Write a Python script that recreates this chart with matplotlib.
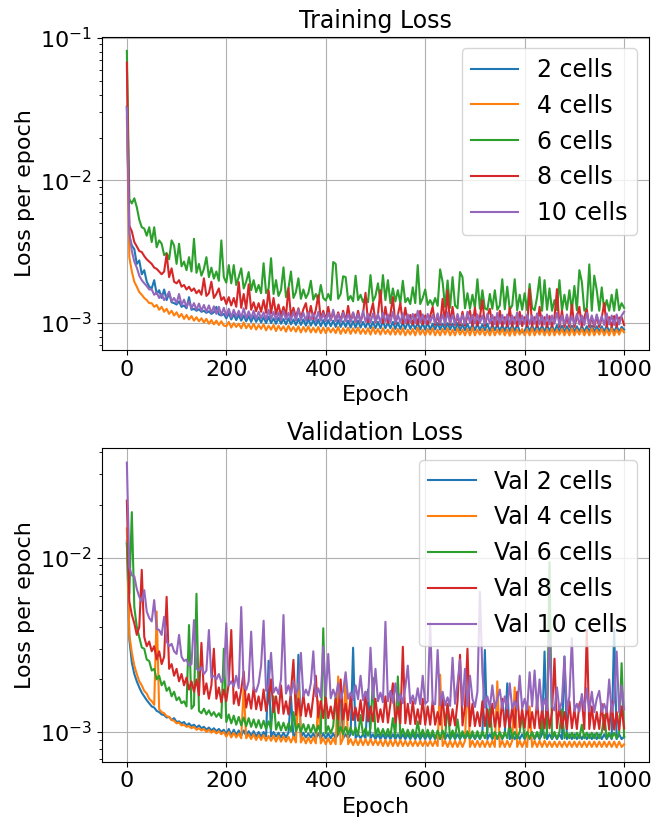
import numpy as np
import matplotlib
matplotlib.use("Agg")
import matplotlib.pyplot as plt

EPOCHS = list(range(0, 1001, 5))

TRAIN_LABELS = ["2 cells", "4 cells", "6 cells", "8 cells", "10 cells"]
VAL_LABELS = ["Val 2 cells", "Val 4 cells", "Val 6 cells", "Val 8 cells", "Val 10 cells"]

tr2 = [
    33, 4.1, 3.5, 3.3, 2.6, 2.75, 2.2, 2.35, 1.95, 1.8,
    1.75, 2.0, 1.6, 1.7, 1.5, 1.72, 1.45, 1.62, 1.4, 1.38,
    1.35, 1.42, 1.3, 1.33, 1.27, 1.52, 1.24, 1.26, 1.22, 1.25,
    1.2, 1.22, 1.18, 1.21, 1.16, 1.19, 1.3, 1.15, 1.13, 1.16,
    1.08, 1.17, 1.06, 1.15, 1.05, 1.14, 1.04, 1.13, 1.03, 1.12,
    1.02, 1.12, 1.02, 1.1, 1.01, 1.1, 1.0, 1.11, 1.0, 1.08,
    0.99, 1.09, 0.99, 1.07, 0.98, 1.08, 0.98, 1.06, 0.97, 1.07,
    0.97, 1.06, 0.96, 1.07, 0.96, 1.05, 0.96, 1.06, 0.95, 1.05,
    0.95, 1.05, 0.95, 1.04, 0.94, 1.05, 0.94, 1.03, 0.94, 1.04,
    0.93, 1.03, 0.93, 1.04, 0.93, 1.02, 0.93, 1.03, 0.92, 1.02,
    0.92, 1.02, 0.92, 1.03, 0.92, 1.01, 0.92, 1.02, 0.91, 1.01,
    0.91, 1.01, 0.91, 1.02, 0.91, 1.0, 0.91, 1.01, 0.9, 1.0,
    0.9, 1.01, 0.9, 0.99, 0.9, 1.0, 0.9, 0.99, 0.9, 1.0,
    0.9, 0.99, 0.89, 1.0, 0.89, 0.98, 0.89, 0.99, 0.89, 0.98,
    0.89, 0.99, 0.89, 0.98, 0.89, 0.99, 0.88, 0.97, 0.89, 0.98,
    0.88, 0.97, 0.88, 0.98, 0.88, 0.97, 0.88, 0.98, 0.88, 0.86,
    0.88, 0.97, 0.88, 0.96, 0.88, 0.97, 0.88, 0.96, 0.87, 0.97,
    0.88, 0.96, 0.87, 0.97, 0.87, 0.96, 0.87, 0.95, 0.87, 0.96,
    0.87, 0.95, 0.87, 0.96, 0.87, 0.95, 0.87, 0.96, 0.87, 0.95,
    0.87, 0.95, 0.87, 0.96, 0.87, 0.94, 0.87, 0.95, 0.87, 0.94,
    0.9,
]

tr4 = [
    28, 2.9, 2.3, 1.95, 1.8, 1.65, 1.58, 1.5, 1.45, 1.38,
    1.38, 1.3, 1.34, 1.24, 1.3, 1.2, 1.26, 1.16, 1.22, 1.13,
    1.19, 1.1, 1.16, 1.07, 1.14, 1.06, 1.12, 1.04, 1.1, 1.03,
    1.08, 1.01, 1.07, 0.99, 1.05, 0.98, 1.04, 0.97, 1.03, 0.96,
    0.95, 1.02, 0.93, 1.0, 0.94, 0.99, 0.92, 1.01, 0.92, 0.98,
    0.91, 0.99, 0.9, 0.97, 0.91, 0.98, 0.89, 0.96, 0.9, 0.97,
    0.88, 0.96, 0.89, 0.95, 0.87, 0.96, 0.88, 0.94, 0.87, 0.95,
    0.86, 0.94, 0.87, 0.95, 0.86, 0.93, 0.86, 0.94, 0.85, 0.93,
    0.85, 0.93, 0.86, 0.92, 0.85, 0.94, 0.84, 0.92, 0.85, 0.93,
    0.84, 0.92, 0.85, 0.93, 0.84, 0.91, 0.84, 0.92, 0.83, 0.93,
    0.84, 0.91, 0.83, 0.92, 0.84, 0.9, 0.83, 0.92, 0.83, 0.91,
    0.83, 0.92, 0.82, 0.9, 0.83, 0.91, 0.82, 0.93, 0.83, 0.9,
    0.82, 0.91, 0.83, 0.92, 0.82, 0.9, 0.82, 0.91, 0.83, 0.92,
    0.82, 0.9, 0.82, 0.92, 0.83, 0.9, 0.82, 0.91, 0.82, 0.93,
    0.82, 0.9, 0.83, 0.91, 0.82, 0.9, 0.82, 0.92, 0.82, 0.9,
    0.83, 0.91, 0.82, 0.9, 0.815, 0.92, 0.82, 0.9, 0.83, 0.91,
    0.82, 0.9, 0.82, 0.92, 0.82, 0.9, 0.83, 0.91, 0.82, 0.9,
    0.82, 0.92, 0.82, 0.9, 0.83, 0.91, 0.82, 0.9, 0.82, 0.92,
    0.82, 0.9, 0.83, 0.91, 0.82, 0.9, 0.82, 0.92, 0.82, 0.9,
    0.83, 0.91, 0.82, 0.9, 0.82, 0.92, 0.82, 0.9, 0.83, 0.91,
    0.86,
]

tr6 = [
    81, 7.4, 6.9, 7.5, 6.5, 5.3, 4.7, 4.6, 4.1, 4.7,
    3.7, 4.7, 3.4, 3.8, 3.6, 3.0, 3.1, 2.8, 3.8, 3.5,
    2.6, 3.6, 2.5, 2.7, 2.35, 2.9, 2.3, 3.9, 2.25, 2.6,
    2.15, 2.4, 2.9, 2.1, 2.45, 2.05, 2.3, 1.98, 3.8, 2.1,
    1.92, 2.55, 1.9, 2.55, 1.85, 2.1, 2.42, 1.75, 1.95, 2.28,
    1.7, 2.0, 1.65, 1.85, 1.62, 2.63, 1.62, 1.75, 2.85, 1.6,
    2.0, 1.55, 1.7, 2.46, 1.52, 1.75, 2.3, 1.5, 1.65, 2.06,
    1.48, 1.72, 1.5, 1.62, 1.98, 1.46, 1.6, 1.45, 1.85, 1.5,
    1.44, 1.6, 1.45, 2.68, 2.6, 1.48, 1.6, 2.13, 2.1, 1.45,
    1.55, 1.42, 2.15, 1.45, 1.58, 1.4, 1.52, 1.4, 2.17, 1.42,
    1.55, 1.9, 1.4, 2.17, 1.45, 2.0, 1.38, 1.75, 1.42, 1.7,
    1.38, 1.98, 1.4, 1.5, 1.36, 1.78, 1.38, 2.55, 1.36, 1.5,
    1.72, 1.34, 1.45, 1.33, 1.5, 1.32, 2.38, 1.94, 1.3, 1.99,
    1.28, 2.1, 1.33, 1.27, 2.28, 2.1, 1.27, 1.62, 1.26, 1.58,
    1.28, 2.03, 1.26, 1.7, 1.27, 1.24, 1.6, 1.26, 1.7, 1.24,
    1.33, 2.03, 1.25, 1.8, 1.24, 1.33, 2.03, 1.23, 1.58, 1.24,
    1.62, 1.23, 1.88, 1.28, 1.23, 1.52, 2.1, 1.22, 2.0, 1.24,
    1.75, 1.22, 1.45, 1.23, 2.0, 1.22, 1.58, 1.24, 1.7, 1.22,
    1.82, 1.23, 2.35, 1.95, 1.22, 1.28, 2.58, 1.22, 2.15, 1.7,
    1.22, 1.78, 1.23, 1.45, 1.22, 1.58, 1.22, 1.72, 1.23, 1.38,
    1.28,
]

tr8 = [
    67, 4.8, 4.4, 3.7, 3.45, 3.2, 3.15, 2.95, 2.8, 2.7,
    2.6, 2.45, 2.4, 2.3, 2.2, 2.3, 3.04, 2.1, 2.42, 1.95,
    1.9, 2.0, 1.8, 1.85, 1.72, 1.8, 1.68, 1.75, 1.62, 1.7,
    1.58, 2.06, 1.55, 1.62, 1.95, 1.5, 1.6, 1.75, 1.45, 1.52,
    1.36, 1.52, 1.33, 1.5, 1.3, 1.94, 1.28, 1.6, 1.26, 1.87,
    1.24, 1.4, 1.21, 1.38, 1.2, 1.45, 1.18, 1.7, 1.17, 1.5,
    1.15, 1.35, 1.13, 1.3, 1.12, 1.76, 1.12, 1.28, 1.1, 1.27,
    1.09, 1.25, 1.38, 1.08, 1.32, 1.07, 1.24, 1.57, 1.06, 1.22,
    1.05, 1.3, 1.05, 1.2, 1.04, 1.19, 1.04, 1.22, 1.03, 1.32,
    1.03, 1.18, 1.02, 1.22, 1.02, 1.17, 1.63, 1.01, 1.17, 1.38,
    1.01, 1.15, 1.7, 1.0, 1.3, 1.0, 1.15, 1.52, 0.99, 1.14,
    1.38, 0.99, 1.28, 0.99, 1.14, 0.98, 1.15, 0.98, 1.22, 0.98,
    1.13, 0.98, 1.12, 1.3, 0.97, 1.13, 0.97, 1.48, 0.97, 1.7,
    0.97, 1.3, 0.97, 1.12, 0.96, 1.2, 0.96, 1.12, 1.22, 0.96,
    1.28, 0.96, 1.1, 1.45, 0.96, 1.12, 1.26, 0.95, 1.1, 0.95,
    1.22, 0.95, 1.1, 0.95, 1.28, 0.95, 1.1, 0.95, 1.2, 0.95,
    1.1, 0.95, 1.73, 0.95, 1.1, 0.94, 1.3, 0.95, 1.1, 0.94,
    1.12, 0.94, 1.1, 1.73, 0.94, 1.22, 0.94, 1.1, 0.94, 1.35,
    0.94, 1.1, 1.3, 0.94, 1.1, 1.25, 0.94, 1.1, 0.94, 1.12,
    0.94, 1.09, 1.38, 0.94, 1.1, 0.94, 1.12, 0.94, 1.09, 1.1,
    0.97,
]

tr10 = [
    32.4, 4.3, 3.2, 2.7, 2.45, 2.15, 2.0, 1.9, 1.82, 1.72,
    1.72, 1.58, 1.64, 1.5, 1.6, 1.45, 1.54, 1.66, 1.42, 1.5,
    1.38, 1.6, 1.34, 1.46, 1.3, 1.42, 1.27, 1.38, 1.24, 1.37,
    1.22, 1.34, 1.2, 1.33, 1.18, 1.31, 1.16, 1.3, 1.14, 1.28,
    1.12, 1.26, 1.1, 1.24, 1.11, 1.22, 1.09, 1.27, 1.08, 1.21,
    1.08, 1.22, 1.07, 1.2, 1.08, 1.19, 1.06, 1.24, 1.07, 1.2,
    1.06, 1.19, 1.05, 1.22, 1.06, 1.18, 1.05, 1.2, 1.04, 1.25,
    1.05, 1.18, 1.04, 1.19, 1.05, 1.17, 1.03, 1.2, 1.04, 1.17,
    1.03, 1.18, 1.04, 1.24, 1.03, 1.16, 1.02, 1.18, 1.03, 1.16,
    1.02, 1.19, 1.03, 1.16, 1.02, 1.22, 1.02, 1.16, 1.01, 1.17,
    1.02, 1.16, 1.01, 1.18, 1.02, 1.15, 1.01, 1.2, 1.01, 1.15,
    1.01, 1.17, 1.0, 1.15, 1.01, 1.16, 1.0, 1.22, 1.01, 1.15,
    1.0, 1.16, 1.01, 1.14, 1.0, 1.17, 1.0, 1.15, 0.99, 1.19,
    1.0, 1.14, 0.99, 1.16, 1.0, 1.14, 0.99, 1.2, 1.0, 1.14,
    0.99, 1.15, 1.0, 1.13, 0.99, 1.16, 0.99, 1.14, 0.98, 1.18,
    0.99, 1.14, 0.99, 1.15, 0.98, 1.13, 0.99, 1.19, 0.98, 1.13,
    0.99, 1.15, 0.98, 1.13, 0.99, 1.17, 0.98, 1.13, 0.98, 1.15,
    0.98, 1.13, 0.99, 1.18, 0.98, 1.13, 0.98, 1.15, 0.98, 1.12,
    0.98, 1.16, 0.98, 1.13, 0.97, 1.18, 0.98, 1.13, 0.97, 1.15,
    0.98, 1.12, 0.97, 1.17, 0.98, 1.13, 0.97, 1.15, 0.98, 1.13,
    1.2,
]

va2 = [
    12.5, 3.4, 2.5, 2.15, 1.95, 1.8, 1.68, 1.6, 1.52, 1.46,
    1.4, 1.38, 1.32, 1.3, 1.26, 1.25, 1.21, 1.22, 1.17, 1.2,
    1.14, 1.15, 1.12, 1.14, 1.09, 1.12, 1.08, 1.1, 1.06, 1.09,
    1.05, 1.07, 1.03, 1.06, 1.02, 1.05, 1.01, 1.04, 1.0, 1.03,
    0.97, 1.04, 0.96, 1.03, 0.96, 1.02, 0.95, 1.02, 0.95, 1.01,
    0.95, 1.01, 0.94, 1.0, 0.94, 1.0, 0.94, 2.56, 0.94, 1.0,
    0.94, 0.99, 0.93, 0.99, 0.93, 0.99, 1.6, 0.93, 0.99, 2.77,
    0.93, 0.99, 0.93, 0.98, 0.93, 0.98, 0.92, 0.98, 0.92, 0.98,
    0.92, 0.98, 0.92, 0.98, 0.92, 0.97, 1.7, 0.92, 0.97, 0.92,
    0.97, 3.04, 0.92, 0.97, 0.92, 0.97, 0.92, 1.75, 0.92, 0.97,
    0.91, 0.97, 0.91, 0.97, 0.91, 0.97, 0.91, 0.97, 0.91, 0.97,
    0.91, 0.97, 0.91, 0.97, 0.91, 0.97, 0.91, 0.97, 0.91, 0.97,
    0.91, 0.97, 0.91, 0.97, 0.91, 0.97, 0.91, 0.97, 0.91, 0.97,
    0.91, 0.97, 0.91, 0.97, 0.91, 0.97, 0.91, 0.97, 0.91, 0.97,
    0.91, 0.97, 0.91, 0.97, 2.95, 0.91, 0.97, 0.91, 0.97, 0.91,
    0.97, 0.91, 0.97, 1.9, 0.91, 0.97, 0.91, 0.97, 0.91, 0.97,
    0.91, 0.97, 0.91, 0.97, 0.91, 0.97, 0.91, 0.97, 2.89, 0.91,
    0.97, 0.91, 0.97, 0.91, 0.97, 0.91, 2.7, 0.91, 0.97, 0.91,
    0.97, 0.91, 0.97, 0.91, 0.97, 0.91, 0.97, 0.91, 0.97, 0.91,
    0.97, 0.91, 0.97, 0.91, 0.97, 0.91, 3.93, 0.91, 0.97, 0.91,
    0.94,
]

va4 = [
    14.7, 3.6, 2.85, 2.4, 2.15, 1.95, 1.85, 1.72, 1.66, 1.55,
    1.5, 1.43, 4.9, 1.35, 1.3, 1.28, 1.23, 1.22, 1.17, 1.16,
    1.12, 1.13, 1.09, 1.1, 1.07, 1.08, 1.05, 1.07, 1.03, 1.05,
    1.02, 1.04, 1.0, 1.03, 0.99, 1.02, 0.98, 1.01, 0.97, 1.0,
    0.94, 1.0, 0.93, 0.99, 0.93, 0.98, 0.92, 1.8, 0.92, 0.97,
    0.91, 0.97, 0.9, 0.96, 0.9, 0.96, 0.89, 0.95, 0.89, 0.95,
    0.88, 0.95, 0.88, 0.94, 0.88, 0.94, 0.87, 0.94, 0.87, 1.9,
    0.87, 0.93, 0.86, 0.93, 0.86, 0.93, 0.86, 1.5, 0.86, 0.92,
    0.85, 0.92, 0.85, 0.92, 0.85, 2.08, 0.85, 0.92, 2.08, 0.85,
    0.91, 0.84, 0.91, 0.84, 0.91, 0.84, 0.91, 0.84, 0.91, 0.84,
    0.9, 0.84, 0.9, 0.83, 0.9, 0.83, 0.9, 0.83, 0.9, 0.83,
    0.9, 0.83, 0.89, 0.83, 0.89, 0.83, 0.89, 0.83, 0.89, 0.83,
    0.89, 0.83, 0.89, 0.83, 0.89, 0.83, 2.13, 0.83, 0.89, 0.82,
    0.89, 0.82, 0.89, 0.82, 0.89, 0.82, 0.89, 2.13, 0.82, 0.89,
    0.82, 0.89, 0.82, 0.89, 0.82, 0.89, 0.82, 0.89, 0.82, 1.95,
    0.82, 0.89, 0.82, 0.89, 0.82, 0.89, 1.8, 0.82, 0.89, 0.82,
    0.89, 0.82, 1.4, 0.82, 0.89, 0.82, 0.89, 0.82, 0.89, 0.82,
    0.88, 0.82, 0.88, 0.82, 0.88, 0.82, 0.88, 0.82, 0.88, 0.82,
    0.88, 0.82, 0.88, 0.82, 0.88, 0.82, 0.88, 0.82, 0.88, 0.82,
    0.88, 0.82, 0.88, 0.82, 0.88, 0.82, 0.88, 0.815, 0.88, 0.82,
    0.85,
]

va6 = [
    12.0, 6.2, 18.2, 5.2, 4.0, 3.5, 3.05, 3.0, 2.6, 2.55,
    2.25, 2.3, 2.0, 2.1, 1.85, 1.95, 1.72, 1.8, 1.6, 1.7,
    1.52, 1.58, 1.46, 1.5, 1.4, 4.1, 1.36, 1.42, 6.2, 1.32,
    1.28, 1.36, 1.26, 1.33, 1.24, 1.3, 1.22, 1.28, 1.2, 3.0,
    1.14, 1.26, 1.12, 1.24, 1.1, 1.22, 1.09, 1.21, 1.08, 1.2,
    1.07, 1.18, 1.06, 1.17, 1.05, 1.16, 1.04, 1.15, 1.04, 1.6,
    1.03, 1.14, 1.02, 1.13, 1.02, 1.12, 1.01, 1.3, 1.01, 1.11,
    1.0, 1.11, 1.0, 1.1, 0.99, 1.1, 0.99, 1.09, 0.98, 3.93,
    0.98, 1.08, 0.98, 1.08, 1.6, 0.97, 1.07, 0.97, 1.07, 0.97,
    1.06, 0.96, 1.06, 0.96, 1.25, 0.96, 1.05, 0.95, 1.05, 2.04,
    0.95, 1.05, 0.95, 1.04, 0.95, 1.04, 0.94, 1.2, 0.94, 2.08,
    0.94, 1.04, 0.94, 1.03, 0.93, 1.03, 0.93, 1.15, 0.93, 1.03,
    0.93, 1.03, 0.93, 1.02, 0.92, 1.02, 0.92, 1.02, 0.92, 1.45,
    0.92, 1.02, 0.92, 1.18, 0.92, 1.01, 0.92, 1.01, 0.92, 1.01,
    0.92, 1.01, 0.92, 1.01, 0.92, 1.01, 1.4, 0.92, 1.0, 0.92,
    1.0, 0.92, 1.0, 0.92, 1.12, 0.92, 1.0, 0.92, 1.0, 1.25,
    0.92, 1.0, 0.92, 1.0, 0.92, 1.0, 0.92, 1.15, 0.92, 1.0,
    9.4, 0.92, 1.0, 0.92, 1.0, 1.35, 0.92, 0.99, 0.92, 0.99,
    0.92, 0.99, 0.92, 1.1, 0.92, 0.99, 0.92, 0.99, 0.92, 0.99,
    0.92, 0.99, 1.25, 0.92, 0.99, 0.92, 0.99, 0.92, 0.99, 2.48,
    0.93,
]

va8 = [
    21.2, 5.6, 4.7, 4.2, 3.6, 4.0, 8.5, 3.5, 3.1, 3.3,
    2.9, 3.1, 2.6, 2.9, 2.45, 2.7, 5.95, 2.3, 2.45, 2.1,
    2.3, 1.95, 2.15, 1.85, 2.05, 1.75, 1.95, 1.7, 2.0, 1.62,
    3.24, 1.65, 1.9, 1.55, 1.85, 3.0, 1.55, 1.8, 1.48, 1.75,
    1.5, 1.9, 3.84, 1.45, 1.7, 1.42, 1.75, 2.22, 1.38, 1.65,
    1.36, 1.8, 1.35, 1.6, 1.33, 1.75, 1.32, 1.55, 2.0, 1.3,
    1.6, 1.28, 1.85, 1.27, 1.5, 1.26, 1.7, 2.59, 1.25, 1.55,
    1.24, 1.65, 1.23, 1.45, 1.22, 1.6, 2.1, 1.21, 1.5, 1.2,
    1.58, 1.2, 1.4, 1.19, 1.55, 1.18, 2.0, 1.18, 1.45, 1.17,
    1.6, 1.17, 1.38, 1.16, 1.52, 1.16, 1.7, 1.15, 1.4, 1.15,
    1.55, 1.14, 1.35, 1.14, 1.6, 1.13, 1.45, 1.9, 1.13, 1.4,
    1.12, 3.08, 1.12, 1.45, 1.11, 1.5, 1.11, 1.35, 1.11, 1.55,
    1.1, 1.4, 1.1, 1.5, 1.1, 1.3, 1.1, 1.6, 1.09, 1.45,
    1.09, 1.35, 1.09, 1.5, 2.77, 1.09, 1.4, 3.0, 1.08, 1.45,
    1.08, 1.3, 1.08, 1.5, 1.08, 1.35, 1.07, 1.45, 1.07, 1.3,
    1.07, 1.55, 1.07, 1.35, 1.06, 1.4, 1.06, 1.7, 1.06, 1.35,
    1.06, 1.45, 1.06, 1.3, 1.05, 1.5, 1.05, 1.35, 1.05, 1.45,
    1.05, 1.3, 2.63, 1.05, 1.4, 1.05, 1.3, 1.04, 1.5, 1.05,
    1.35, 1.04, 1.45, 1.55, 1.04, 3.84, 1.04, 1.4, 1.04, 1.3,
    1.04, 1.45, 1.03, 1.35, 1.03, 1.5, 1.03, 1.3, 1.03, 1.4,
    1.05,
]

va10 = [
    35.0, 8.8, 7.9, 7.8, 6.6, 5.95, 5.6, 6.5, 4.9, 4.5,
    4.3, 5.7, 3.9, 3.84, 3.6, 4.57, 3.3, 3.1, 3.2, 2.9,
    2.8, 3.6, 2.7, 2.55, 2.6, 2.4, 2.45, 4.38, 2.3, 2.25,
    2.35, 2.15, 2.25, 3.84, 2.05, 2.1, 2.0, 2.15, 1.93, 2.05,
    4.2, 1.85, 1.95, 1.82, 2.1, 1.78, 5.2, 1.85, 1.74, 1.95,
    3.76, 1.78, 1.7, 1.9, 2.4, 4.34, 1.72, 1.85, 2.84, 1.68,
    1.8, 1.65, 2.0, 4.68, 1.66, 1.85, 1.62, 1.95, 1.65, 1.8,
    2.84, 1.6, 1.75, 1.62, 1.9, 2.9, 1.6, 1.78, 1.58, 3.08,
    1.62, 2.8, 1.56, 1.75, 1.58, 1.9, 1.55, 1.72, 2.2, 1.55,
    1.68, 1.52, 1.85, 1.54, 2.1, 1.52, 1.7, 1.5, 3.04, 1.55,
    2.3, 1.5, 1.68, 1.48, 4.28, 1.5, 1.72, 1.47, 1.9, 1.48,
    1.65, 1.46, 1.8, 2.4, 1.46, 1.62, 1.45, 1.78, 1.44, 2.1,
    1.45, 1.5, 4.2, 1.45, 1.44, 2.95, 1.42, 1.7, 1.42, 1.58,
    1.41, 2.66, 1.45, 1.9, 2.6, 1.42, 2.3, 1.4, 2.1, 1.55,
    1.39, 1.7, 6.35, 2.2, 1.38, 1.6, 1.38, 1.85, 1.37, 1.55,
    1.75, 1.36, 1.6, 1.36, 1.9, 1.36, 1.5, 1.35, 2.1, 1.36,
    1.55, 1.34, 2.2, 1.4, 2.25, 1.34, 2.0, 1.34, 1.55, 1.33,
    3.52, 1.4, 1.33, 1.8, 1.33, 1.5, 2.71, 1.32, 1.6, 3.45,
    1.32, 1.45, 1.31, 1.65, 1.32, 1.78, 1.31, 1.7, 1.3, 1.55,
    1.72, 1.3, 1.45, 1.3, 2.0, 1.3, 1.5, 2.89, 1.3, 1.85,
    1.35,
]

SCALE = 1e-3  # all listed values are in units of 1e-3

plt.rcParams["font.family"] = ["DejaVu Sans"]
plt.rcParams["font.size"] = 16

fig = plt.figure(figsize=(6.55, 8.17), dpi=100)
ax1 = fig.add_axes([0.1557, 0.5716, 0.8351, 0.3835])
ax2 = fig.add_axes([0.1557, 0.0677, 0.8351, 0.3835])

colors = ["C0", "C1", "C2", "C3", "C4"]
x = np.array(EPOCHS)

for vals, lab, c in zip([tr2, tr4, tr6, tr8, tr10], TRAIN_LABELS, colors):
    ax1.plot(x[:len(vals)], np.array(vals) * SCALE, color=c, label=lab, lw=1.5)
for vals, lab, c in zip([va2, va4, va6, va8, va10], VAL_LABELS, colors):
    ax2.plot(x[:len(vals)], np.array(vals) * SCALE, color=c, label=lab, lw=1.5)

for ax, title in [(ax1, "Training Loss"), (ax2, "Validation Loss")]:
    ax.set_yscale("log")
    ax.set_title(title, fontsize=17)
    ax.set_xlabel("Epoch", fontsize=16)
    ax.set_ylabel("Loss per epoch", fontsize=16)
    ax.grid(True)
    ax.legend(loc="upper right", fontsize=17)
    ax.set_xticks([0, 200, 400, 600, 800, 1000])

fig.savefig("out.png", dpi=100)
